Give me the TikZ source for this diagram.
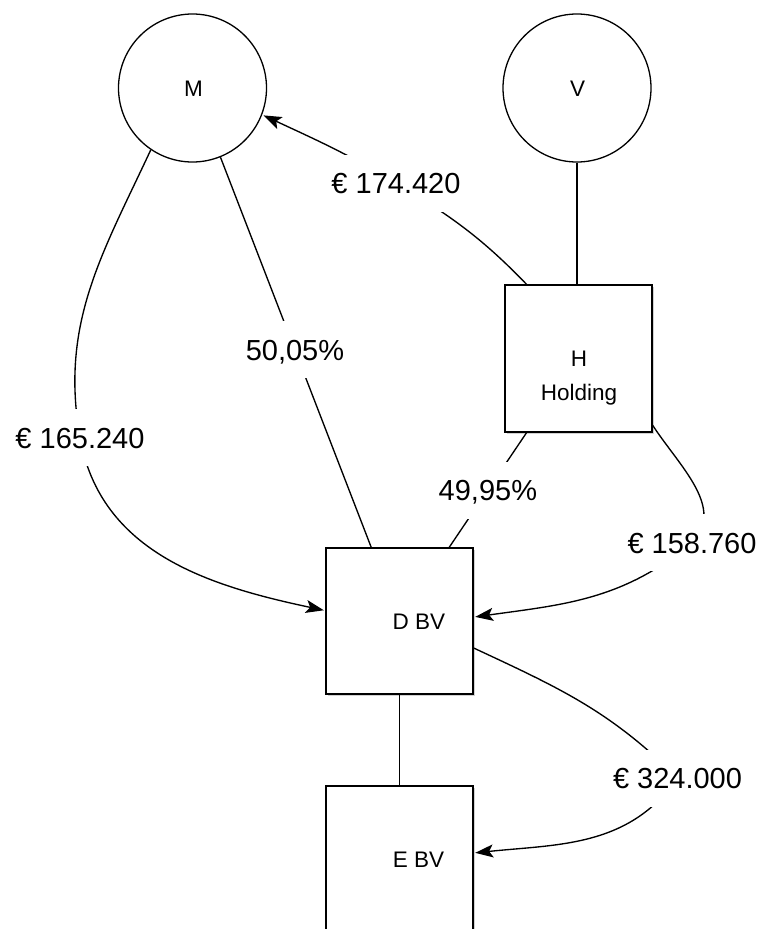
\documentclass[tikz,border=0pt]{standalone}
\usepackage{fontspec}
\setmainfont{Liberation Sans}
\usetikzlibrary{arrows.meta,shadows,calc}
\begin{document}
\begin{tikzpicture}[x=1pt,y=-1pt,
  every node/.style={inner sep=0pt},
  personnode/.style={circle, draw, line width=1.3pt, minimum size=148pt, fill=white},
  companynode/.style={rectangle, draw, line width=1.4pt, minimum width=147pt,
    minimum height=147pt, fill=white,
    drop shadow={shadow xshift=1.5pt, shadow yshift=-2pt, opacity=0.18, fill=black}},
  nametext/.style={font=\fontsize{22.5}{26}\selectfont, anchor=base},
  amountlbl/.style={fill=white, font=\fontsize{29}{33}\selectfont, inner xsep=2pt,
    text height=21pt, text depth=0pt, minimum height=57pt},
  ownline/.style={line width=1.35pt},
  payline/.style={ownline, -{Stealth[length=18pt,width=13pt,inset=4pt]}, shorten >=1.5pt},
]
\useasboundingbox (0,0) rectangle (762,929);

% shareholders
\node[personnode] (M) at (192.5,88) {};
\node[personnode] (V) at (577,88) {};
\node[nametext] (Mt) at (193.5,96) {M};
\node[nametext] (Vt) at (577.5,96) {V};

% companies
\node[companynode] (H) at (578.5,358.5) {};
\node[companynode, minimum height=146pt] (D) at (399.5,621) {};
\node[companynode] (E) at (399.5,859.5) {};
\node[nametext] (Ht) at (579,366) {H};
\node[nametext] (Hh) at (579,400) {Holding};
\node[nametext] (Dt) at (419,629) {D BV};
\node[nametext] (Et) at (418.5,867) {E BV};

% label positions
\coordinate (p1) at (396,183);
\coordinate (p2) at (80,437.5);
\coordinate (p5) at (692,542.5);
\coordinate (p6) at (677.5,778);

% ownership lines
\draw[ownline] (V.south) -- (V.south |- H.north);
\draw[ownline] (D.south) -- (E.north);
\draw[ownline] (M.292) -- node[amountlbl, pos=0.494] (a3) {50,05\%} (D.111);
\draw[ownline] (H.235) -- node[amountlbl] (a4) {49,95\%} (D.56);

% payments
\draw[payline] (H.125) to[out=134,in=-31] (p1) node[amountlbl] (a1) {€ 174.420}
  to[out=149,in=-25] (M.-21);
\draw[payline] (M.236) to[out=245,in=100] (p2) node[amountlbl] (a2) {€ 165.240}
  to[out=-80,in=168] (D.172);
\draw[payline] (H.-42) to[out=-57,in=45] (p5) node[amountlbl] (a5) {€ 158.760}
  to[out=-140,in=8] (D.3);
\draw[payline] (D.-20) to[out=-25,in=135] (p6) node[amountlbl] (a6) {€ 324.000}
  to[out=-125,in=6] (E.5);
\end{tikzpicture}
\end{document}
